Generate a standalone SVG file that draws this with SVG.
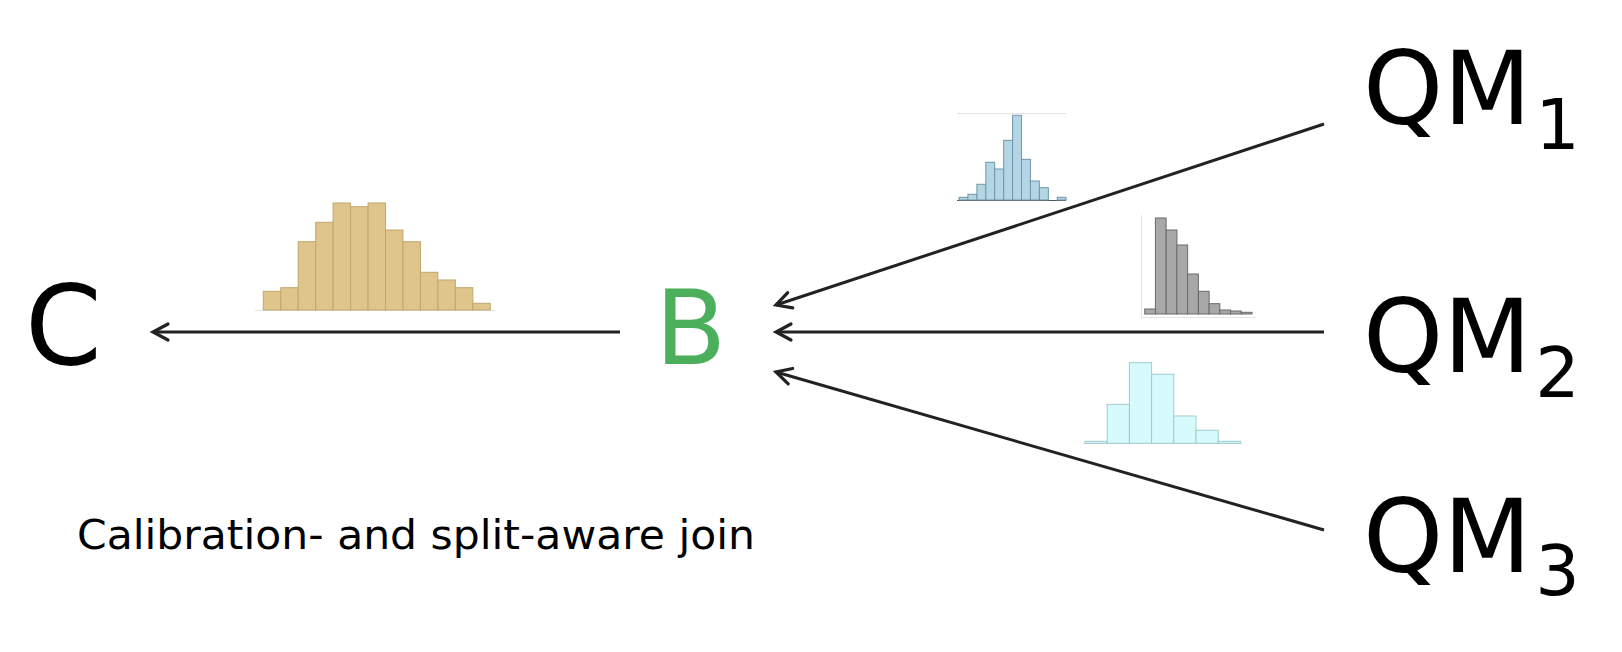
<svg xmlns="http://www.w3.org/2000/svg" width="1622" height="652" viewBox="0 0 1622 652">
<defs>
<style>
.lbl{font-family:"DejaVu Sans","Verdana",sans-serif;fill:#000}
.conn{stroke:#222;stroke-width:3;fill:none;marker-end:url(#arr)}
.tan rect{fill:#dfc58c;stroke:#c2a66c;stroke-width:1}
.blue rect{fill:#b4d6e4;stroke:#6f97a8;stroke-width:1}
.grey rect{fill:#a8a8a8;stroke:#6a6a6a;stroke-width:1}
.cyan rect{fill:#d7fbfd;stroke:#9fcbcf;stroke-width:1}
.axis{stroke:#e4e4e4;stroke-width:1}
</style>
<marker id="arr" markerUnits="userSpaceOnUse" markerWidth="20" markerHeight="20" viewBox="-18 -10 20 20" refX="0" refY="0" orient="auto" overflow="visible">
<path d="M-15,-8 L0,0 L-15,8" fill="none" stroke="#222" stroke-width="3.2" stroke-linejoin="miter" stroke-linecap="round"/>
</marker>
</defs>
<rect width="1622" height="652" fill="#fff"/>

<g id="connectors">
<line class="conn" x1="620" y1="332" x2="153" y2="332"/>
<line class="conn" x1="1324" y1="124" x2="776" y2="305"/>
<line class="conn" x1="1324" y1="332" x2="776" y2="332"/>
<line class="conn" x1="1324" y1="530" x2="776" y2="372"/>
</g>

<g id="node-C"><text class="lbl" x="25" y="364" font-size="110">C</text></g>
<g id="node-B"><text class="lbl" x="655" y="364" font-size="104" style="fill:#4caf5b">B</text></g>
<g id="node-QM1"><text class="lbl" x="1363" y="124" font-size="102">QM<tspan font-size="70" dx="4" dy="25">1</tspan></text></g>
<g id="node-QM2"><text class="lbl" x="1363" y="372" font-size="102">QM<tspan font-size="70" dx="4" dy="25">2</tspan></text></g>
<g id="node-QM3"><text class="lbl" x="1363" y="572" font-size="102">QM<tspan font-size="70" dx="4" dy="23">3</tspan></text></g>

<g id="caption"><text class="lbl" x="77" y="549" font-size="40" textLength="678" lengthAdjust="spacingAndGlyphs">Calibration- and split-aware join</text></g>

<g id="hist-tan" class="tan">
<line class="axis" x1="255" y1="310.5" x2="495" y2="310.5"/>
<rect x="263.3" y="291.3" width="17.46" height="18.7"/>
<rect x="280.8" y="287.7" width="17.46" height="22.3"/>
<rect x="298.2" y="241.7" width="17.46" height="68.3"/>
<rect x="315.7" y="222.3" width="17.46" height="87.7"/>
<rect x="333.1" y="203" width="17.46" height="107"/>
<rect x="350.6" y="206.7" width="17.46" height="103.3"/>
<rect x="368.1" y="203" width="17.46" height="107"/>
<rect x="385.5" y="230" width="17.46" height="80"/>
<rect x="403.0" y="241.7" width="17.46" height="68.3"/>
<rect x="420.4" y="272.3" width="17.46" height="37.7"/>
<rect x="437.9" y="280" width="17.46" height="30"/>
<rect x="455.4" y="287.7" width="17.46" height="22.3"/>
<rect x="472.8" y="303.3" width="17.46" height="6.7"/>
</g>

<g id="hist-blue" class="blue">
<line class="axis" x1="957" y1="113.5" x2="1066" y2="113.5"/>
<line x1="957" y1="200.5" x2="1066" y2="200.5" stroke="#555" stroke-width="1"/>
<rect x="959" y="197.3" width="8.93" height="2.7"/>
<rect x="967.9" y="194.3" width="8.93" height="5.7"/>
<rect x="976.9" y="184.3" width="8.93" height="15.7"/>
<rect x="985.8" y="162.3" width="8.93" height="37.7"/>
<rect x="994.7" y="169" width="8.93" height="31"/>
<rect x="1003.7" y="140.3" width="8.93" height="59.7"/>
<rect x="1012.6" y="115.3" width="8.93" height="84.7"/>
<rect x="1021.5" y="159.3" width="8.93" height="40.7"/>
<rect x="1030.4" y="181" width="8.93" height="19"/>
<rect x="1039.4" y="187.7" width="8.93" height="12.3"/>
<rect x="1057.2" y="197.3" width="8.93" height="2.7"/>
</g>

<g id="hist-grey" class="grey">
<line class="axis" x1="1141.5" y1="215" x2="1141.5" y2="317"/>
<line class="axis" x1="1141" y1="317.5" x2="1256" y2="317.5"/>
<rect x="1144.7" y="309" width="10.73" height="5"/>
<rect x="1155.4" y="218" width="10.73" height="96"/>
<rect x="1166.2" y="230" width="10.73" height="84"/>
<rect x="1176.9" y="245" width="10.73" height="69"/>
<rect x="1187.6" y="274" width="10.73" height="40"/>
<rect x="1198.4" y="291.3" width="10.73" height="22.7"/>
<rect x="1209.1" y="303.7" width="10.73" height="10.3"/>
<rect x="1219.8" y="310" width="10.73" height="4"/>
<rect x="1230.5" y="311" width="10.73" height="3"/>
<rect x="1241.3" y="312.3" width="10.73" height="1.7"/>
</g>

<g id="hist-cyan" class="cyan">
<line class="axis" x1="1082" y1="443.5" x2="1242" y2="443.5"/>
<rect x="1085" y="441.3" width="22.2" height="2"/>
<rect x="1107.2" y="404.3" width="22.2" height="39"/>
<rect x="1129.4" y="362.7" width="22.2" height="80.6"/>
<rect x="1151.6" y="374.3" width="22.2" height="69"/>
<rect x="1173.8" y="416" width="22.2" height="27.3"/>
<rect x="1196" y="430.3" width="22.2" height="13"/>
<rect x="1218.2" y="441.3" width="22.2" height="2"/>
</g>
</svg>
